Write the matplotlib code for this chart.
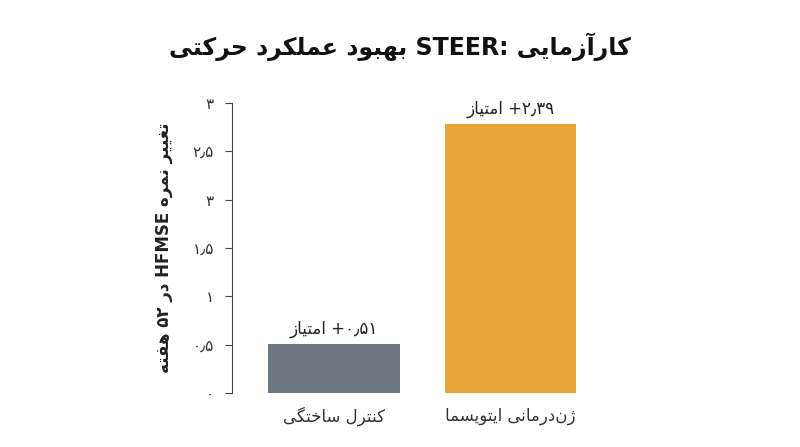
import matplotlib
matplotlib.use('Agg')
import matplotlib.pyplot as plt

# minimal Persian shaping: presentation forms (isolated, final, initial, medial)
FORMS = {
    'ا': ('\uFE8D', '\uFE8E', None, None), 'آ': ('\uFE81', '\uFE82', None, None),
    'ب': ('\uFE8F', '\uFE90', '\uFE91', '\uFE92'), 'ت': ('\uFE95', '\uFE96', '\uFE97', '\uFE98'),
    'ح': ('\uFEA1', '\uFEA2', '\uFEA3', '\uFEA4'), 'خ': ('\uFEA5', '\uFEA6', '\uFEA7', '\uFEA8'),
    'د': ('\uFEA9', '\uFEAA', None, None), 'ر': ('\uFEAD', '\uFEAE', None, None),
    'ز': ('\uFEAF', '\uFEB0', None, None), 'ژ': ('\uFB8A', '\uFB8B', None, None),
    'س': ('\uFEB1', '\uFEB2', '\uFEB3', '\uFEB4'), 'ع': ('\uFEC9', '\uFECA', '\uFECB', '\uFECC'),
    'غ': ('\uFECD', '\uFECE', '\uFECF', '\uFED0'), 'ف': ('\uFED1', '\uFED2', '\uFED3', '\uFED4'),
    'ک': ('\uFB8E', '\uFB8F', '\uFB90', '\uFB91'), 'گ': ('\uFB92', '\uFB93', '\uFB94', '\uFB95'),
    'ل': ('\uFEDD', '\uFEDE', '\uFEDF', '\uFEE0'), 'م': ('\uFEE1', '\uFEE2', '\uFEE3', '\uFEE4'),
    'ن': ('\uFEE5', '\uFEE6', '\uFEE7', '\uFEE8'), 'ه': ('\uFEE9', '\uFEEA', '\uFEEB', '\uFEEC'),
    'و': ('\uFEED', '\uFEEE', None, None), 'ی': ('\uFBFC', '\uFBFD', '\uFBFE', '\uFBFF'),
}


def shape_word(w):
    out = []
    for i, c in enumerate(w):
        if c not in FORMS:
            out.append(c)
            continue
        prev = w[i - 1] if i > 0 else None
        nxt = w[i + 1] if i + 1 < len(w) else None
        join_prev = prev in FORMS and FORMS[prev][2] is not None
        join_next = nxt in FORMS and FORMS[c][2] is not None
        iso, fin, ini, med = FORMS[c]
        if join_prev and join_next:
            out.append(med)
        elif join_prev:
            out.append(fin)
        elif join_next:
            out.append(ini)
        else:
            out.append(iso)
    s = ''.join(out).replace('\u200c', '')
    if any(ch in FORMS for ch in w):
        s = s[::-1]
    return s


def rtl(text):
    # words in logical order -> visual left-to-right
    return ' '.join(shape_word(w) for w in text.split(' ')[::-1])


title = 'کارآزمایی STEER: بهبود عملکرد حرکتی'
ylabel = 'تغییر نمره HFMSE در ۵۲ هفته'
categories = ['کنترل ساختگی', 'ژن\u200cدرمانی ایتویسما']
values = [0.51, 2.78]   # bar heights as drawn in the reference
bar_labels = ['+۰٫۵۱ امتیاز', '+۲٫۳۹ امتیاز']
ticks = [0, 0.5, 1, 1.5, 2, 2.5, 3]
tick_labels = ['۰', '۰٫۵', '۱', '۱٫۵', '۳', '۲٫۵', '۳']
colors = ['#6c777f', '#e8a339']

plt.rcParams['font.family'] = ['DejaVu Sans']

fig = plt.figure(figsize=(8, 4.47), dpi=100)
ax = fig.add_axes([0.29, 0.121, 0.472, 0.649])
x = [0, 1]
ax.bar(x, values, width=0.745, color=colors)
for xi, v, lab in zip(x, values, bar_labels):
    ax.text(xi, v + 0.06, rtl(lab), ha='center', va='bottom', fontsize=12, color='#222222')

ax.set_xlim(-0.576, 1.56)
ax.set_ylim(0, 3)
ax.set_yticks(ticks)
ax.set_yticklabels(tick_labels, fontsize=11, color='#333333')
ax.set_xticks(x)
ax.set_xticklabels([rtl(c) for c in categories], fontsize=12, color='#333333')
ax.tick_params(axis='x', length=0, pad=10)
ax.tick_params(axis='y', length=5, color='#444444', pad=8)
for s in ['top', 'right', 'bottom']:
    ax.spines[s].set_visible(False)
ax.spines['left'].set_color('#444444')
ax.set_ylabel(rtl(ylabel), fontsize=12, fontweight='bold', labelpad=14, color='#222222')

fig.text(0.5, 0.895, rtl(title), ha='center', va='center', fontsize=17, fontweight='bold', color='#111111')

fig.savefig('out.png', dpi=100)
